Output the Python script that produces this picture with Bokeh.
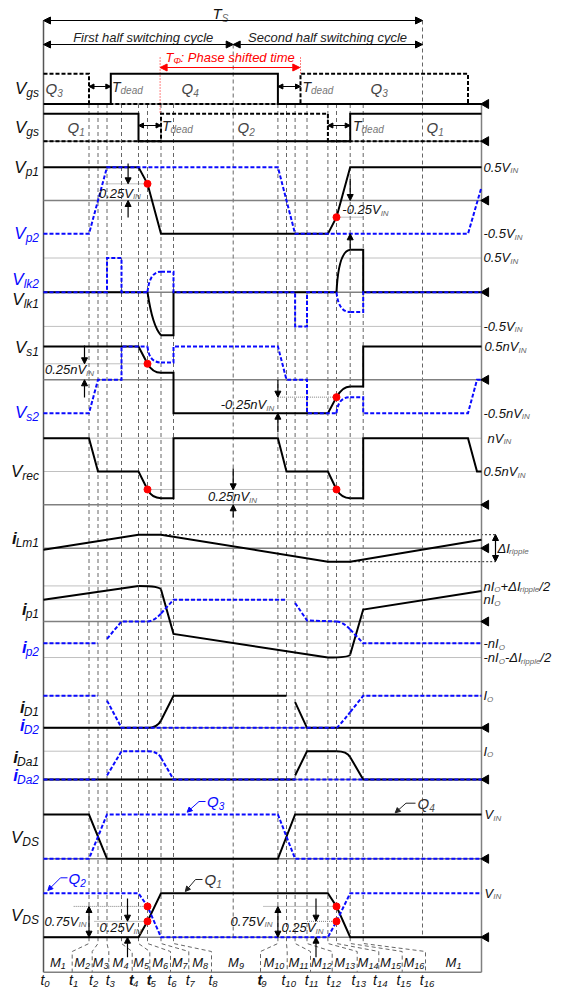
import numpy as np
from collections import defaultdict
from bokeh.plotting import figure
from bokeh.models import Range1d, Arrow, NormalHead
from bokeh.core.properties import value
from bokeh.embed import file_html
from bokeh.resources import INLINE

# ----------------------------- data -----------------------------
# switching instants (time units, t0 = 0)
time_names = ["t0", "t1", "t2", "t3", "t4", "t5", "t6", "t7", "t8", "th",
              "t9", "t10", "t11", "t12", "t13", "t14", "t15", "t16", "Ts",
              "t1n", "t2n", "tq4", "tq3", "tend"]
time_vals = [0.0, 45.5, 54.5, 63.5, 78.0, 95.0, 104.0, 117.5, 130.0, 189.7,
             234.4, 243.0, 251.6, 263.5, 284.4, 293.0, 306.7, 319.7, 379.0,
             424.5, 433.5, 67.3, 257.0, 438.0]
TT = dict(zip(time_names, time_vals))

# gate signals (1 = on)
gs_Q4 = [("L", [("t0", 0), ("tq4", 0), ("tq4", 1), ("t9", 1), ("t9", 0), ("tend", 0)])]
gs_Q3 = [("L", [("t0", 1), ("t1", 1), ("t1", 0), ("tq3", 0), ("tq3", 1), ("t1n", 1), ("t1n", 0), ("tend", 0)])]
gs_Q1 = [("L", [("t0", 1), ("t5", 1), ("t5", 0), ("t15", 0), ("t15", 1), ("tend", 1)])]
gs_Q2 = [("L", [("t0", 0), ("t7", 0), ("t7", 1), ("t13", 1), ("t13", 0), ("tend", 0)])]

# primary voltages (x VIN)
vp1 = [("L", [("t0", .5), ("t5", .5), ("t6", .25), ("t7", -.5), ("t13", -.5), ("t14", -.25), ("t15", .5), ("tend", .5)])]
vp2 = [("L", [("t0", -.5), ("t1", -.5), ("t3", .5), ("t9", .5), ("t11", -.5), ("t1n", -.5), ("tend", .2)])]

# leakage inductor voltages (x VIN)
vlk1 = [("L", [("t0", 0), ("t6", 0)]),
        ("Q", ("t6", 0), (109.0, -.5), ("t7", -.63)),
        ("L", [("t7", -.63), ("t8", -.63), ("t8", 0), ("t14", 0)]),
        ("Q", ("t14", 0), (295.0, .6), ("t15", .62)),
        ("L", [("t15", .62), ("t16", .62), ("t16", 0), ("tend", 0)])]
vlk2 = [("L", [("t0", 0), ("t3", 0), ("t3", .5), ("t4", .5), ("t4", 0), ("t6", 0)]),
        ("Q", ("t6", 0), (106.0, .3), ("t7", .3)),
        ("L", [("t7", .3), ("t8", .3), ("t8", 0), ("t11", 0), ("t11", -.5), ("t12", -.5), ("t12", 0), ("t14", 0)]),
        ("Q", ("t14", 0), (295.0, -.29), ("t15", -.29)),
        ("L", [("t15", -.29), ("t16", -.29), ("t16", 0), ("tend", 0)])]

# secondary voltages (x nVIN)
vs1 = [("L", [("t0", .5), ("t5", .5), ("t6", .24)]),
       ("Q", ("t6", .24), (109.0, .105), ("t7", .105)),
       ("L", [("t7", .105), ("t8", .105), ("t8", -.5), ("t13", -.5), ("t14", -.26)]),
       ("Q", ("t14", -.26), (299.0, -.1), ("t15", -.1)),
       ("L", [("t15", -.1), ("t16", -.1), ("t16", .5), ("tend", .5)])]
vs2 = [("L", [("t0", -.5), ("t1", -.5), ("t2", 0), ("t4", 0), ("t4", .5), ("t6", .5)]),
       ("Q", ("t6", .5), (105.5, .26), ("t7", .26)),
       ("L", [("t7", .26), ("t8", .26), ("t8", .5), ("t9", .5), ("t10", 0), ("t12", 0), ("t12", -.5), ("t14", -.5)]),
       ("Q", ("t14", -.5), (294.5, -.26), ("t15", -.26)),
       ("L", [("t15", -.26), ("t16", -.26), ("t16", -.5), ("t1n", -.5), ("t2n", 0), ("tend", 0)])]

# rectified voltage (x nVIN)
vrec = [("L", [("t0", 1), ("t1", 1), ("t2", .5), ("t5", .5), ("t6", .23)]),
        ("Q", ("t6", .23), (108.5, .1), ("t7", .1)),
        ("L", [("t7", .1), ("t8", .1), ("t8", 1), ("t9", 1), ("t10", .5), ("t13", .5), ("t14", .23)]),
        ("Q", ("t14", .23), (298.0, .1), ("t15", .1)),
        ("L", [("t15", .1), ("t16", .1), ("t16", 1), ("t1n", 1), ("t2n", .5), ("tend", .5)])]

# magnetising current (x dI_ripple)
ilm1 = [("L", [("t0", -.06), ("t5", .5), ("t7", .5), ("t13", -.5), ("t15", -.5), ("tend", .31)])]

# primary currents (x nIO)
ip1 = [("L", [("t0", 1.0), ("t5", 1.64)]),
       ("Q", ("t5", 1.64), (116.5, 1.64), ("t7", 1.47)),
       ("L", [("t7", 1.47), ("t8", -.57), ("t13", -1.66)]),
       ("Q", ("t13", -1.66), (305.8, -1.66), ("t15", -1.52)),
       ("L", [("t15", -1.52), ("t16", .55), ("tend", 1.41)])]
ip2 = [("L", [("t0", -1), ("t2", -1)]),
       ("L", [("t3", -.8), ("t4", 0), ("t6", 0)]),
       ("Q", ("t6", 0), (110.1, 0), ("t7", .37)),
       ("L", [("t7", .37), ("t8", 1), ("t10", 1)]),
       ("L", [("t11", .85), ("t12", .05), ("t14", 0)]),
       ("Q", ("t14", 0), (299.1, 0), ("t15", -.37)),
       ("L", [("t15", -.37), ("t16", -1), ("tend", -1)])]

# rectifier diode currents (x IO)
id1 = [("L", [("t0", 0), ("t6", 0)]),
       ("Q", ("t6", 0), (113.8, 0), ("t7", .23)),
       ("L", [("t7", .23), ("t8", 1), ("t10", 1)]),
       ("L", [("t11", .8), ("t12", 0), ("tend", 0)])]
id2 = [("L", [("t0", 1), ("t2", 1)]),
       ("L", [("t3", .85), ("t4", 0), ("t14", 0)]),
       ("Q", ("t14", 0), (294.2, 0), ("t15", .49)),
       ("L", [("t15", .49), ("t16", 1), ("tend", 1)])]
ida1 = [("L", [("t0", 0), ("t11", 0)]),
        ("L", [("t11", .14), ("t12", 1), ("t14", 1)]),
        ("Q", ("t14", 1), (303.2, 1), ("t15", .79)),
        ("L", [("t15", .79), ("t16", 0), ("tend", 0)])]
ida2 = [("L", [("t0", 0), ("t2", 0)]),
        ("L", [("t3", .14), ("t4", 1), ("t6", 1)]),
        ("Q", ("t6", 1), (114.0, 1), ("t7", .77)),
        ("L", [("t7", .77), ("t8", 0), ("tend", 0)])]

# drain-source voltages (x VIN)
vds_q4 = [("L", [("t0", 1), ("t1", 1), ("t3", 0), ("t9", 0), ("t11", 1), ("tend", 1)])]
vds_q3 = [("L", [("t0", 0), ("t1", 0), ("t3", 1), ("t9", 1), ("t11", 0), ("tend", 0)])]
vds_q1 = [("L", [("t0", 0), ("t5", 0), ("t6", .36), ("t7", 1), ("t13", 1), ("t14", .7), ("t15", 0), ("tend", 0)])]
vds_q2 = [("L", [("t0", 1), ("t5", 1), ("t6", .7), ("t7", 0), ("t13", 0), ("t14", .36), ("t15", 1), ("tend", 1)])]

# marked points
red_dots = [("vp", .25, "t6"), ("vp", -.25, "t14"), ("vs", .24, "t6"), ("vs", -.26, "t14"),
            ("vrec", .23, "t6"), ("vrec", .23, "t14"), ("vds2", .7, "t6"), ("vds2", .36, "t6"),
            ("vds2", .7, "t14"), ("vds2", .36, "t14")]

# reference (dotted) levels: row, level, from, to
ref_levels = [("vp", .25, 62.0, "t6"), ("vp", -.25, "t14", "t16"),
              ("vlk", .5, "t0", "tend"), ("vlk", -.5, "t0", "tend"),
              ("vs", .24, "t0", "t6"), ("vs", -.26, "t9", "t14"),
              ("vrec", 1, "t0", "tend"), ("vrec", .5, "t0", "tend"), ("vrec", .23, "t6", "t14"),
              ("ip", 1.64, "t0", "tend"), ("ip", 1, "t0", "tend"), ("ip", -1, "t0", "tend"), ("ip", -1.66, "t0", "tend"),
              ("id", 1, "t0", "tend"), ("ida", 1, "t0", "tend"),
              ("vds2", .7, 30.2, "t6"), ("vds2", .36, 51.0, "t6"),
              ("vds2", .7, 220.0, "t14"), ("vds2", .36, "t12", "t14")]
ripple_levels = [("ilm", .5, "t7", 452.0), ("ilm", -.5, "t15", 452.0)]

row_names = ["Vgs", "Vgs", "Vp1", "Vp2", "Vlk2", "Vlk1", "Vs1", "Vs2", "Vrec", "iLm1",
             "ip1", "ip2", "iD1", "iD2", "iDa1", "iDa2", "VDS", "VDS"]
t_labels = ["t%d" % i for i in range(17)]
m_labels = ["M%d" % i for i in range(1, 17)] + ["M1"]

# ----------------------------- layout -----------------------------
X0 = 43.0
def P(x):
    return x - X0

rows = {"gs1": (103.5, 30.2), "gs2": (140.7, 27.4), "vp": (200.0, 66.7), "vlk": (291.7, 68.4),
        "vs": (379.3, 66.7), "vrec": (504.3, 66.6), "ilm": (547.7, 27.0), "ip": (621.0, 21.7),
        "id": (727.3, 32.0), "ida": (779.0, 28.3), "vds1": (858.3, 44.3), "vds2": (936.7, 44.0)}

def T(a):
    return TT[a] if isinstance(a, str) else a

def Y(row, lvl):
    b, k = rows[row]
    return b - k * lvl

FONT = "Liberation Sans"
BLUE = "#0a0aff"
BLACK = "#000000"

p = figure(width=561, height=988, x_range=Range1d(0 - X0, 561 - X0), y_range=Range1d(988, 0),
           output_backend="svg", toolbar_location=None, min_border=0,
           x_axis_location=None, y_axis_location=None)
p.grid.visible = False
p.outline_line_color = None
p.background_fill_color = "white"

# time lines
tl_x, tl_y0 = [], []
for n in ["t1", "t2", "t3", "t4", "t5", "t6", "t7", "t8", "t9", "t10", "t11", "t12", "t13", "t14", "t15", "t16"]:
    tl_x.append(TT[n]); tl_y0.append(103.5)
tl_x += [TT["th"], TT["Ts"]]; tl_y0 += [44.0, 20.0]
p.segment(x0=tl_x, y0=tl_y0, x1=tl_x, y1=[936.7] * len(tl_x), line_color="#666666", line_width=1, line_dash="4 3")

# brackets to the bottom labels
b_px = [71.7, 91.7, 108.3, 131.7, 149.3, 170.0, 188.3, 211.0, 260.0, 286.7, 310.0, 331.7, 356.7, 378.3, 401.7, 425.0]
bn = ["t1", "t2", "t3", "t4", "t5", "t6", "t7", "t8", "t9", "t10", "t11", "t12", "t13", "t14", "t15", "t16"]
bxs, bys = [], []
for n, bx in zip(bn, b_px):
    bxs.append([TT[n], TT[n], P(bx), P(bx)])
    bys.append([936.7, 943.0, 951.0, 971.7])
p.multi_line(xs=bxs, ys=bys, line_color="#666666", line_width=1, line_dash="4 3")

# red dotted phase-shift markers
p.segment(x0=[P(159.6), TT["tq3"]], y0=[57, 57], x1=[P(159.6), TT["tq3"]], y1=[113, 73],
          line_color="red", line_width=1, line_dash="1 2")

# dotted reference levels
for r, l, a, b in ref_levels:
    p.line([T(a), T(b)], [Y(r, l)] * 2, line_color="#808080", line_width=1, line_dash="1 1")
for r, l, a, b in ripple_levels:
    p.line([T(a), T(b)], [Y(r, l)] * 2, line_color="#222222", line_width=1, line_dash="2 2")

# frame lines and baselines
p.line([0, 0], [20, 971.7], line_color="#555555", line_width=1.5)
p.line([TT["tend"], TT["tend"]], [103.5, 971.7], line_color="#808080", line_width=1.5)
p.line([0, TT["tend"]], [971.7, 971.7], line_color="#808080", line_width=1.5)
bases = [rows[k][0] for k in rows]
p.segment(x0=[0] * len(bases), y0=bases, x1=[TT["tend"]] * len(bases), y1=bases, line_color="#808080", line_width=1.5)
p.scatter(x=[P(485.5)] * len(bases), y=bases, marker="triangle", size=9, angle=np.pi / 2,
          fill_color="black", line_color="black")

def wave(pieces, row, color, dash, width=2.0):
    for pc in pieces:
        if pc[0] == "L":
            xs = [T(a) for a, _ in pc[1]]
            ys = [Y(row, l) for _, l in pc[1]]
            p.line(xs, ys, line_color=color, line_width=width, line_dash=dash, line_join="miter")
        else:
            (a0, l0), (ac, lc), (a1, l1) = pc[1], pc[2], pc[3]
            p.quadratic(x0=[T(a0)], y0=[Y(row, l0)], x1=[T(a1)], y1=[Y(row, l1)],
                        cx=[T(ac)], cy=[Y(row, lc)], line_color=color, line_width=width, line_dash=dash)

DASH = "4 2"
wave(gs_Q4, "gs1", BLACK, "solid"); wave(gs_Q3, "gs1", BLACK, DASH)
wave(gs_Q1, "gs2", BLACK, "solid"); wave(gs_Q2, "gs2", BLACK, DASH)
wave(vp1, "vp", BLACK, "solid"); wave(vp2, "vp", BLUE, DASH)
wave(vlk1, "vlk", BLACK, "solid"); wave(vlk2, "vlk", BLUE, DASH)
wave(vs1, "vs", BLACK, "solid"); wave(vs2, "vs", BLUE, DASH)
wave(vrec, "vrec", BLACK, "solid")
wave(ilm1, "ilm", BLACK, "solid")
wave(ip1, "ip", BLACK, "solid"); wave(ip2, "ip", BLUE, DASH)
wave(id1, "id", BLACK, "solid"); wave(id2, "id", BLUE, DASH)
wave(ida1, "ida", BLACK, "solid"); wave(ida2, "ida", BLUE, DASH)
wave(vds_q4, "vds1", BLACK, "solid"); wave(vds_q3, "vds1", BLUE, DASH)
wave(vds_q1, "vds2", BLACK, "solid"); wave(vds_q2, "vds2", BLUE, DASH)

p.scatter(x=[T(t) for _, _, t in red_dots], y=[Y(r, l) for r, l, _ in red_dots],
          size=7, fill_color="red", line_color="red")

# arrows
def arrow(x0, y0, x1, y1, both=False, color="black", size=6, lw=1.2):
    kw = dict(end=NormalHead(size=size, fill_color=color, line_color=color, line_width=1))
    kw["start"] = NormalHead(size=size, fill_color=color, line_color=color, line_width=1) if both else None
    p.add_layout(Arrow(x_start=P(x0), y_start=y0, x_end=P(x1), y_end=y1,
                       line_color=color, line_width=lw, **kw))

arrow(43, 20, 422, 20, True, size=7)
arrow(43, 44, 232.7, 44, True, size=7)
arrow(232.7, 44, 422, 44, True, size=7)
arrow(159.6, 67, 299.3, 67, True, color="red", size=7)
arrow(88.5, 86, 110.3, 86, True, size=5)
arrow(277.4, 86, 300.0, 86, True, size=5)
arrow(138.0, 125, 160.5, 125, True, size=5)
arrow(327.4, 125, 349.7, 125, True, size=5)
# Vp
arrow(127.6, 163, 127.6, 183.3); arrow(127.6, 217, 127.6, 200)
arrow(349.7, 178, 349.7, 200); arrow(349.7, 249, 349.7, 233.3)
# Vs
arrow(84, 345, 84, 363.3); arrow(84, 397, 84, 379.3)
arrow(277.4, 379.3, 277.4, 396.7); arrow(277.4, 431.7, 277.4, 412.7)
# Vrec
arrow(232.7, 468, 232.7, 489.3); arrow(232.7, 517, 232.7, 504.3)
# ripple
arrow(495, 534, 495, 561, True)
# VDS2
arrow(88.5, 936.7, 88.5, 906, True); arrow(127, 898, 127, 920.7); arrow(127, 956.7, 127, 936.7)
arrow(277.4, 936.7, 277.4, 906, True); arrow(315.5, 898, 315.5, 920.7); arrow(315.5, 956.7, 315.5, 936.7)
# leaders
def leader(pts, color):
    xs = [P(a) for a, _ in pts[:-1]]
    ys = [b for _, b in pts[:-1]]
    p.line(xs, ys, line_color=color, line_width=1)
    arrow(pts[-2][0], pts[-2][1], pts[-1][0], pts[-1][1], color=color, size=5, lw=1)
leader([(205.0, 801), (198.5, 801), (186.6, 811.7)], BLUE)
leader([(415.0, 802.7), (405.5, 802.7), (394.7, 812.3)], "#222222")
leader([(67.0, 877.3), (60.0, 877.3), (47.3, 890)], BLUE)
leader([(202.0, 879), (195.0, 879), (184.8, 891)], "#222222")

# ----------------------------- texts -----------------------------
CW = {'0': .556, '1': .556, '2': .556, '3': .556, '4': .556, '5': .556, '6': .556, '7': .556, '8': .556,
      '9': .556, '.': .278, '-': .333, '+': .584, '/': .278, ':': .278, ' ': .278, 'V': .667, 'I': .278,
      'N': .722, 'n': .556, 'M': .833, 't': .278, 'T': .611, 'Q': .778, 'i': .222, 'g': .556, 's': .5,
      'p': .556, 'l': .222, 'k': .5, 'r': .333, 'e': .556, 'c': .5, 'D': .722, 'S': .667, 'a': .556,
      'L': .556, 'm': .833, 'd': .556, 'Δ': .612, 'O': .778, 'o': .556, 'Φ': .8, 'h': .556, 'f': .278,
      'P': .667, 'F': .611, 'w': .722, 'y': .5, 'u': .556, 'v': .5, 'b': .556}

def tw(s, size):
    return sum(CW.get(c, .55) for c in s) * size

texts = defaultdict(lambda: {"x": [], "y": [], "text": []})

def put(xpx, y, s, size, color, style="italic"):
    d = texts[(size, color, style)]
    d["x"].append(P(xpx)); d["y"].append(y); d["text"].append(s)

def rich(xpx, y, parts, size, ssize, color="#111111", scolor=None, align="left", style="italic", sdy=None):
    scolor = scolor or color
    sdy = 0.3 * size if sdy is None else sdy
    widths = [tw(s, ssize if sub else size) for s, sub in parts]
    total = sum(widths)
    x = xpx - total if align == "right" else (xpx - total / 2 if align == "center" else xpx)
    for (s, sub), w in zip(parts, widths):
        if sub:
            put(x, y + sdy, s, ssize, scolor, "italic")
        else:
            put(x, y, s, size, color, style)
        x += w

# top
rich(220, 13, [("T", 0), ("S", 1)], 15, 10, "#111111", "#666666", "center")
rich(142.7, 37, [("First half switching cycle", 0)], 13, 9, "#222222", align="center")
rich(327.0, 37, [("Second half switching cycle", 0)], 13, 9, "#222222", align="center")
rich(229.6, 57, [("T", 0), ("Φ", 1), (": Phase shifted time", 0)], 13, 9, "red", "red", "center")

# left row labels
left_y = [88, 127, 167, 233, 279, 299, 347, 412, 471, 538, 609, 647, 707, 725, 757, 775, 837, 915]
left_c = ["k", "k", "k", "b", "b", "k", "k", "b", "k", "k", "k", "b", "k", "b", "k", "b", "k", "k"]
for name, y, c in zip(row_names, left_y, left_c):
    col = BLUE if c == "b" else "#111111"
    main, sub = name[0], name[1:]
    rich(38.5, y, [(main, 0), (sub, 1)], 17, 12, col, col, "right",
         style="bold italic" if main == "i" else "italic", sdy=4.5)

# gate labels
for x, y, s in [(45, 88, "3"), (181, 88, "4"), (370, 88, "3"), (67, 127, "1"), (237, 127, "2"), (426, 127, "1")]:
    rich(x, y, [("Q", 0), (s, 1)], 15, 10, "#444444", "#666666")
for x, y in [(111.5, 86), (302.0, 86), (161.5, 125), (352.5, 125)]:
    rich(x, y, [("T", 0), ("dead", 1)], 14, 10, "#222222", "#777777")

# VDS labels
rich(206.5, 801, [("Q", 0), ("3", 1)], 15, 10, BLUE, BLUE)
rich(417.0, 803, [("Q", 0), ("4", 1)], 15, 10, "#333333", "#555555")
rich(68.0, 877.5, [("Q", 0), ("2", 1)], 15, 10, BLUE, BLUE)
rich(204.0, 879, [("Q", 0), ("1", 1)], 15, 10, "#333333", "#555555")

# right level labels
right_labels = [
    (483, 166.7, [("0.5V", 0), ("IN", 1)]), (483, 233.3, [("-0.5V", 0), ("IN", 1)]),
    (483, 257.3, [("0.5V", 0), ("IN", 1)]), (483, 325.7, [("-0.5V", 0), ("IN", 1)]),
    (484, 346.0, [("0.5nV", 0), ("IN", 1)]), (483, 412.7, [("-0.5nV", 0), ("IN", 1)]),
    (487, 437.7, [("nV", 0), ("IN", 1)]), (483, 471.0, [("0.5nV", 0), ("IN", 1)]),
    (497, 547.7, [("ΔI", 0), ("ripple", 1)]),
    (483, 585.7, [("nI", 0), ("O", 1), ("+ΔI", 0), ("ripple", 1), ("/2", 0)]),
    (483, 599.3, [("nI", 0), ("O", 1)]), (483, 643.3, [("-nI", 0), ("O", 1)]),
    (483, 657.0, [("-nI", 0), ("O", 1), ("-ΔI", 0), ("ripple", 1), ("/2", 0)]),
    (483, 695.3, [("I", 0), ("O", 1)]), (483, 750.7, [("I", 0), ("O", 1)]),
    (484, 814.0, [("V", 0), ("IN", 1)]), (484, 892.7, [("V", 0), ("IN", 1)])]
for x, y, parts in right_labels:
    rich(x, y, parts, 13, 8, "#111111", "#666666", sdy=3.5)

# in-plot annotations
for x, y, m in [(119.4, 192.7, "0.25V"), (365.0, 209.0, "-0.25V"), (69.0, 369.0, "0.25nV"),
                (247.0, 404.0, "-0.25nV"), (232.0, 496.0, "0.25nV"), (65.0, 920.7, "0.75V"),
                (120.0, 927.3, "0.25V"), (251.0, 920.7, "0.75V"), (302.0, 927.3, "0.25V")]:
    rich(x, y, [(m, 0), ("IN", 1)], 13, 8, "#111111", "#666666", "center", sdy=3.5)

# bottom interval and instant labels
b_all = [43.0] + b_px + [481.0]
for i, m in enumerate(m_labels):
    cx = (b_all[i] + b_all[i + 1]) / 2
    rich(cx, 961.5, [(m[0], 0), (m[1:], 1)], 13, 9, "#111111", "#111111", "center", sdy=3.5)
for i, t in enumerate(t_labels):
    cx = (44.5 if i == 0 else b_px[i - 1] + 1.5)
    st = "bold italic" if t in ("t4", "t5", "t9") else "italic"
    rich(cx, 979.5, [(t[0], 0), (t[1:], 1)], 14, 9.5, "#111111", "#111111", "center", style=st, sdy=3.5)

for (size, color, style), d in texts.items():
    p.text(x=d["x"], y=d["y"], text=d["text"], text_font=value(FONT), text_font_size=value("%gpx" % size),
           text_color=color, text_font_style=style, text_align="left", text_baseline="middle")

open("out.html", "w").write(file_html(p, INLINE))
